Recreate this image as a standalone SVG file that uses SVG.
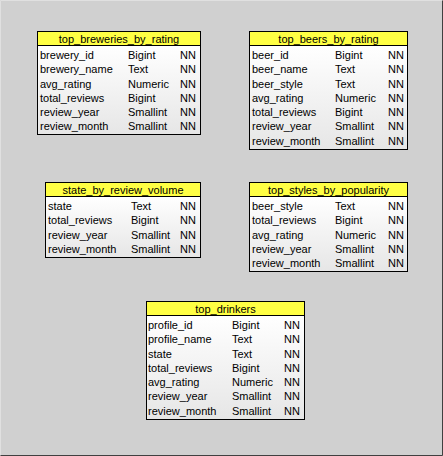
<svg xmlns="http://www.w3.org/2000/svg" width="443" height="456" viewBox="0 0 443 456">
<defs>
<linearGradient id="bodyg" x1="0" y1="0" x2="0" y2="1">
<stop offset="0" stop-color="#ffffff"/>
<stop offset="1" stop-color="#e6e6e6"/>
</linearGradient>
<style>
.hd{fill:#ffff44;stroke:#000;stroke-width:1}
.bd{fill:url(#bodyg);stroke:#000;stroke-width:1}
.t{font-family:"Liberation Sans",Arial,sans-serif;font-size:11px;fill:#000}
.h{text-anchor:middle}
</style>
</defs>
<rect x="0" y="0" width="443" height="456" fill="#d0d0d0"/>
<path d="M0.5,455.5 V0.5 H442.5" fill="none" stroke="#e0e0e0"/>
<path d="M0.5,455.5 H442.5 V0.5" fill="none" stroke="#404040"/>
<g id="connectors"></g>

<g id="top_breweries_by_rating">
<rect class="bd" x="37.5" y="45.5" width="163" height="89"/>
<rect class="hd" x="37.5" y="31.5" width="163" height="14"/>
<text class="t h" x="119" y="42.5">top_breweries_by_rating</text>
<g class="t">
<text x="40" y="59">brewery_id</text><text x="128" y="59">Bigint</text><text x="180" y="59">NN</text>
<text x="40" y="73.25">brewery_name</text><text x="128" y="73.25">Text</text><text x="180" y="73.25">NN</text>
<text x="40" y="87.5">avg_rating</text><text x="128" y="87.5">Numeric</text><text x="180" y="87.5">NN</text>
<text x="40" y="101.75">total_reviews</text><text x="128" y="101.75">Bigint</text><text x="180" y="101.75">NN</text>
<text x="40" y="116">review_year</text><text x="128" y="116">Smallint</text><text x="180" y="116">NN</text>
<text x="40" y="130.25">review_month</text><text x="128" y="130.25">Smallint</text><text x="180" y="130.25">NN</text>
</g>
</g>

<g id="top_beers_by_rating">
<rect class="bd" x="249.5" y="45.5" width="158" height="104"/>
<rect class="hd" x="249.5" y="31.5" width="158" height="14"/>
<text class="t h" x="328.5" y="42.5">top_beers_by_rating</text>
<g class="t">
<text x="252" y="59">beer_id</text><text x="335" y="59">Bigint</text><text x="388" y="59">NN</text>
<text x="252" y="73.25">beer_name</text><text x="335" y="73.25">Text</text><text x="388" y="73.25">NN</text>
<text x="252" y="87.5">beer_style</text><text x="335" y="87.5">Text</text><text x="388" y="87.5">NN</text>
<text x="252" y="101.75">avg_rating</text><text x="335" y="101.75">Numeric</text><text x="388" y="101.75">NN</text>
<text x="252" y="116">total_reviews</text><text x="335" y="116">Bigint</text><text x="388" y="116">NN</text>
<text x="252" y="130.25">review_year</text><text x="335" y="130.25">Smallint</text><text x="388" y="130.25">NN</text>
<text x="252" y="144.5">review_month</text><text x="335" y="144.5">Smallint</text><text x="388" y="144.5">NN</text>
</g>
</g>

<g id="state_by_review_volume">
<rect class="bd" x="45.5" y="196.5" width="155" height="61"/>
<rect class="hd" x="45.5" y="182.5" width="155" height="14"/>
<text class="t h" x="123" y="193.5">state_by_review_volume</text>
<g class="t">
<text x="48" y="210">state</text><text x="131" y="210">Text</text><text x="180" y="210">NN</text>
<text x="48" y="224.25">total_reviews</text><text x="131" y="224.25">Bigint</text><text x="180" y="224.25">NN</text>
<text x="48" y="238.5">review_year</text><text x="131" y="238.5">Smallint</text><text x="180" y="238.5">NN</text>
<text x="48" y="252.75">review_month</text><text x="131" y="252.75">Smallint</text><text x="180" y="252.75">NN</text>
</g>
</g>

<g id="top_styles_by_popularity">
<rect class="bd" x="249.5" y="196.5" width="158" height="75"/>
<rect class="hd" x="249.5" y="182.5" width="158" height="14"/>
<text class="t h" x="328.5" y="193.5">top_styles_by_popularity</text>
<g class="t">
<text x="252" y="210">beer_style</text><text x="335" y="210">Text</text><text x="388" y="210">NN</text>
<text x="252" y="224.25">total_reviews</text><text x="335" y="224.25">Bigint</text><text x="388" y="224.25">NN</text>
<text x="252" y="238.5">avg_rating</text><text x="335" y="238.5">Numeric</text><text x="388" y="238.5">NN</text>
<text x="252" y="252.75">review_year</text><text x="335" y="252.75">Smallint</text><text x="388" y="252.75">NN</text>
<text x="252" y="267">review_month</text><text x="335" y="267">Smallint</text><text x="388" y="267">NN</text>
</g>
</g>

<g id="top_drinkers">
<rect class="bd" x="146.5" y="315.5" width="158" height="104"/>
<rect class="hd" x="146.5" y="301.5" width="158" height="14"/>
<text class="t h" x="225.5" y="312.5">top_drinkers</text>
<g class="t">
<text x="148" y="329">profile_id</text><text x="232" y="329">Bigint</text><text x="284" y="329">NN</text>
<text x="148" y="343.25">profile_name</text><text x="232" y="343.25">Text</text><text x="284" y="343.25">NN</text>
<text x="148" y="357.5">state</text><text x="232" y="357.5">Text</text><text x="284" y="357.5">NN</text>
<text x="148" y="371.75">total_reviews</text><text x="232" y="371.75">Bigint</text><text x="284" y="371.75">NN</text>
<text x="148" y="386">avg_rating</text><text x="232" y="386">Numeric</text><text x="284" y="386">NN</text>
<text x="148" y="400.25">review_year</text><text x="232" y="400.25">Smallint</text><text x="284" y="400.25">NN</text>
<text x="148" y="414.5">review_month</text><text x="232" y="414.5">Smallint</text><text x="284" y="414.5">NN</text>
</g>
</g>
</svg>
